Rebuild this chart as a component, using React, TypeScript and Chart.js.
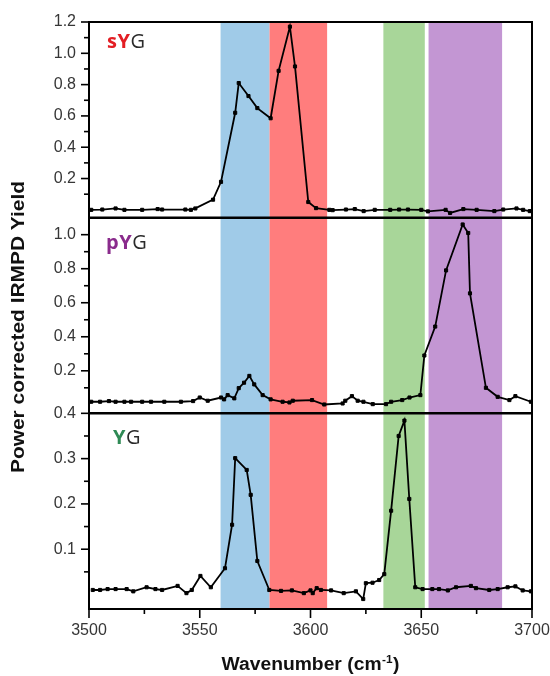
import { useEffect, useRef } from "react";
import { Chart, registerables } from "chart.js";

Chart.register(...registerables);

// ---------------- data ----------------
const xMin = 3500;
const xMax = 3700;
const xTickValues = [3500, 3525, 3550, 3575, 3600, 3625, 3650, 3675, 3700];
const xLabeledTicks = [3500, 3550, 3600, 3650, 3700];

const topTickValues = [0.1, 0.2, 0.3, 0.4, 0.5, 0.6, 0.7, 0.8, 0.9, 1.0, 1.1, 1.2];
const topLabeledTicks = [0.2, 0.4, 0.6, 0.8, 1.0, 1.2];
const middleTickValues = [0.1, 0.2, 0.3, 0.4, 0.5, 0.6, 0.7, 0.8, 0.9, 1.0];
const middleLabeledTicks = [0.2, 0.4, 0.6, 0.8, 1.0];
const bottomTickValues = [0.05, 0.1, 0.15, 0.2, 0.25, 0.3, 0.35, 0.4];
const bottomLabeledTicks = [0.1, 0.2, 0.3, 0.4];

const topRange = [-0.05, 1.2];
const middleRange = [-0.05, 1.1];
const bottomRange = [-0.032, 0.4];

// shaded spectral regions (cm-1)
const bandStart = [3559.4, 3581.5, 3632.9, 3653.3];
const bandEnd = [3581.5, 3607.5, 3651.6, 3686.5];
const bandColor = ["#a0cbe8", "#ff7d7d", "#a8d699", "#c396d3"];

// sYG (top panel)
const sygWavenumber = [
  3501, 3506, 3512, 3516, 3524, 3531, 3533, 3543.5, 3546, 3548, 3556, 3559.6,
  3566, 3567.6, 3572, 3576, 3582, 3585.6, 3590.7, 3593, 3599, 3602.5, 3608.5,
  3610, 3616, 3620, 3624, 3629, 3636, 3640, 3644, 3650, 3653, 3661, 3663, 3669,
  3675, 3683, 3687, 3693, 3696, 3699,
];
const sygYield = [
  0.0, 0.002, 0.009, 0.0, 0.0, 0.005, 0.002, 0.002, 0.0, 0.009, 0.065, 0.179,
  0.62, 0.81, 0.727, 0.65, 0.585, 0.888, 1.17, 0.916, 0.05, 0.011, 0.0,
  -0.002, 0.002, 0.005, -0.008, 0.0, 0.0, 0.002, 0.002, 0.0, -0.01, 0.0, -0.02, 0.005,
  0.0, -0.008, 0.002, 0.009, 0.0, -0.008,
];

// pYG (middle panel)
const pygWavenumber = [
  3501, 3505, 3509, 3512, 3516, 3519, 3524, 3528, 3534, 3541.5, 3547, 3550,
  3553.6, 3559.6, 3561, 3562.6, 3565.6, 3567.6, 3570, 3572.4, 3574.6, 3578.4,
  3582, 3587.4, 3590.5, 3592, 3600.7, 3606.2, 3614.5, 3615.7, 3618.7, 3621.3,
  3623.9, 3628.1, 3634.1, 3636.4, 3641.4, 3644.7, 3649.6, 3651.4, 3656.3,
  3661.2, 3668.7, 3671.2, 3672, 3679.2, 3684.5, 3689.8, 3692.5, 3699.5,
];
const pygYield = [
  0.018, 0.018, 0.022, 0.018, 0.018, 0.018, 0.018, 0.018, 0.018, 0.018, 0.022, 0.043,
  0.024, 0.043, 0.032, 0.057, 0.038, 0.098, 0.13, 0.17, 0.12, 0.057,
  0.032, 0.018, 0.014, 0.024, 0.028, 0.002, 0.008, 0.024, 0.051, 0.024,
  0.018, 0.004, 0.004, 0.018, 0.028, 0.043, 0.057, 0.29, 0.46,
  0.79, 1.06, 1.01, 0.655, 0.1, 0.047, 0.028, 0.051, 0.018,
];

// YG (bottom panel)
const ygWavenumber = [
  3501.7, 3505, 3508.4, 3512, 3517, 3520, 3526, 3530, 3533, 3540, 3544, 3546.4,
  3550.3, 3555, 3561.4, 3564.6, 3566, 3571.2, 3573, 3576, 3581.4, 3586.7,
  3591.6, 3597, 3600, 3601, 3602.8, 3604.7, 3609.3, 3615, 3620.5, 3623.8, 3625,
  3628, 3631, 3633.3, 3636.4, 3639.8, 3642.4, 3644.6, 3647.3, 3650.6, 3655,
  3658, 3662, 3665.7, 3672.4, 3674.7, 3680.7, 3684.5, 3689, 3692.5, 3695.8, 3699.5,
];
const ygYield = [
  0.01, 0.01, 0.012, 0.012, 0.012, 0.007, 0.016, 0.012, 0.01, 0.019, 0.003, 0.01,
  0.041, 0.016, 0.058, 0.154, 0.301, 0.275, 0.22, 0.074, 0.01, 0.008,
  0.009, 0.003, 0.009, 0.003, 0.014, 0.01, 0.009, 0.003, 0.007, -0.01, 0.025,
  0.026, 0.032, 0.045, 0.185, 0.35, 0.384, 0.211, 0.016, 0.012, 0.012,
  0.012, 0.009, 0.016, 0.019, 0.014, 0.01, 0.012, 0.016, 0.018, 0.009, 0.007,
];

const yTitle = "Power corrected IRMPD Yield";
const xTitleMain = "Wavenumber (cm";
const xTitleSup = "-1";
const xTitleEnd = ")";

const panelLabels = [
  { axis: "yTop", parts: [["s", "#e31e24"], ["Y", "#e31e24"], ["G", "#2a2a2a"]] },
  { axis: "yMiddle", parts: [["p", "#8a2b8c"], ["Y", "#8a2b8c"], ["G", "#2a2a2a"]] },
  { axis: "yBottom", parts: [["Y", "#2f8a55"], ["G", "#2a2a2a"]] },
];

// ---------------- layout constants ----------------
const W = 550;
const H = 676;
const AREA_LEFT = 89;
const AREA_TOP = 22;
const AREA_RIGHT_PAD = 18;
const X_AXIS_HEIGHT = 67;
const labelOffsets: Record<string, [number, number]> = {
  yTop: [18, 26],
  yMiddle: [17, 31],
  yBottom: [24, 31],
};

const near = (arr: number[], v: number) => arr.some((a) => Math.abs(a - v) < 1e-9);

const labeledFor: Record<string, number[]> = {
  yTop: topLabeledTicks,
  yMiddle: middleLabeledTicks,
  yBottom: bottomLabeledTicks,
};
const ticksFor: Record<string, number[]> = {
  yTop: topTickValues,
  yMiddle: middleTickValues,
  yBottom: bottomTickValues,
};

const tickFont = { family: '"Liberation Sans", Arial, sans-serif', size: 16 };
const tickColor = "#363636";

function zeroPad(s: any) {
  s.paddingLeft = 0;
  s.paddingRight = 0;
  s.paddingTop = 0;
  s.paddingBottom = 0;
}

function yScale(id: string, range: number[]) {
  return {
    type: "linear",
    position: "left",
    stack: "panels",
    stackWeight: 1,
    min: range[0],
    max: range[1],
    grid: { display: false, drawTicks: false },
    border: { display: false },
    afterBuildTicks: (s: any) => {
      s.ticks = ticksFor[id].map((v) => ({ value: v }));
    },
    afterFit: (s: any) => {
      s.width = AREA_LEFT;
      zeroPad(s);
    },
    ticks: {
      autoSkip: false,
      padding: 13,
      font: tickFont,
      color: tickColor,
      callback: (v: number) => (near(labeledFor[id], v) ? v.toFixed(1) : ""),
    },
  };
}

const decorPlugin = {
  id: "decor",
  beforeDatasetsDraw(chart: any) {
    const { ctx, chartArea: a, scales } = chart;
    const xs = scales.x;
    ctx.save();
    bandStart.forEach((s, i) => {
      const x0 = xs.getPixelForValue(s);
      const x1 = xs.getPixelForValue(bandEnd[i]);
      ctx.fillStyle = bandColor[i];
      ctx.fillRect(x0, a.top, x1 - x0, a.bottom - a.top);
    });
    ctx.restore();
  },
  afterDraw(chart: any) {
    const { ctx, chartArea: a, scales } = chart;
    ctx.save();
    ctx.strokeStyle = "#000";
    // frame
    ctx.lineWidth = 2;
    ctx.strokeRect(a.left, a.top, a.right - a.left, a.bottom - a.top);
    // panel dividers
    ctx.lineWidth = 2.5;
    ["yMiddle", "yBottom"].forEach((id) => {
      const y = scales[id].top;
      ctx.beginPath();
      ctx.moveTo(a.left, y);
      ctx.lineTo(a.right, y);
      ctx.stroke();
    });
    // y ticks
    ctx.lineWidth = 1.6;
    ["yTop", "yMiddle", "yBottom"].forEach((id) => {
      const s = scales[id];
      s.ticks.forEach((t: any) => {
        const py = s.getPixelForValue(t.value);
        const len = near(labeledFor[id], t.value) ? 8 : 5;
        ctx.beginPath();
        ctx.moveTo(a.left - len, py);
        ctx.lineTo(a.left, py);
        ctx.stroke();
      });
    });
    // x ticks
    const xs = scales.x;
    xs.ticks.forEach((t: any) => {
      const px = xs.getPixelForValue(t.value);
      const len = near(xLabeledTicks, t.value) ? 9 : 5;
      ctx.beginPath();
      ctx.moveTo(px, a.bottom);
      ctx.lineTo(px, a.bottom + len);
      ctx.stroke();
    });

    // panel labels
    panelLabels.forEach((p) => {
      const s = scales[p.axis];
      const [dx, dy] = labelOffsets[p.axis];
      let x = a.left + dx;
      const y = s.top + dy;
      ctx.textBaseline = "alphabetic";
      ctx.textAlign = "left";
      p.parts.forEach(([txt, col], i) => {
        const last = i === p.parts.length - 1;
        ctx.font = (last ? "" : "bold ") + '20px "Open Sans", "Liberation Sans", sans-serif';
        ctx.fillStyle = col;
        ctx.fillText(txt, x, y);
        x += ctx.measureText(txt).width + 0.5;
      });
    });

    // y title
    ctx.fillStyle = "#111";
    ctx.font = 'bold 18px "Liberation Sans", Arial, sans-serif';
    ctx.save();
    ctx.translate(19, a.top + 305);
    ctx.rotate(-Math.PI / 2);
    const wy = ctx.measureText(yTitle).width;
    ctx.scale(292 / wy, 1);
    ctx.textAlign = "center";
    ctx.textBaseline = "middle";
    ctx.fillText(yTitle, 0, 0);
    ctx.restore();

    // x title with superscript
    ctx.save();
    const mainFont = 'bold 18px "Liberation Sans", Arial, sans-serif';
    const supFont = 'bold 11px "Liberation Sans", Arial, sans-serif';
    ctx.font = mainFont;
    const w1 = ctx.measureText(xTitleMain).width;
    const w3 = ctx.measureText(xTitleEnd).width;
    ctx.font = supFont;
    const w2 = ctx.measureText(xTitleSup).width;
    const total = w1 + w2 + w3 + 1;
    const k = 178 / total;
    ctx.translate((a.left + a.right) / 2, 670);
    ctx.scale(k, 1);
    ctx.textAlign = "left";
    ctx.textBaseline = "alphabetic";
    let x0 = -total / 2;
    ctx.font = mainFont;
    ctx.fillText(xTitleMain, x0, 0);
    x0 += w1 + 0.5;
    ctx.font = supFont;
    ctx.fillText(xTitleSup, x0, -7);
    x0 += w2 + 0.5;
    ctx.font = mainFont;
    ctx.fillText(xTitleEnd, x0, 0);
    ctx.restore();

    ctx.restore();
  },
};

function series(xs: number[], ys: number[]) {
  return xs.map((x, i) => ({ x, y: ys[i] }));
}

export default function App() {
  const ref = useRef<HTMLCanvasElement | null>(null);

  useEffect(() => {
    document.body.style.margin = "0";
    const canvas = ref.current;
    if (!canvas) return;
    const common = {
      borderColor: "#000",
      backgroundColor: "#000",
      borderWidth: 1.8,
      pointStyle: "rect",
      pointRadius: 2.2,
      pointBorderWidth: 1,
      pointBackgroundColor: "#000",
      pointBorderColor: "#000",
      tension: 0,
      fill: false,
      xAxisID: "x",
    };
    const chart = new Chart(canvas, {
      type: "line",
      data: {
        datasets: [
          { ...common, label: "YG", yAxisID: "yBottom", data: series(ygWavenumber, ygYield) },
          { ...common, label: "pYG", yAxisID: "yMiddle", data: series(pygWavenumber, pygYield) },
          { ...common, label: "sYG", yAxisID: "yTop", data: series(sygWavenumber, sygYield) },
        ],
      } as any,
      options: {
        responsive: false,
        animation: false,
        devicePixelRatio: 1,
        layout: { padding: { top: AREA_TOP, right: AREA_RIGHT_PAD, left: 0, bottom: 0 } },
        plugins: { legend: { display: false }, tooltip: { enabled: false }, title: { display: false } },
        scales: {
          x: {
            type: "linear",
            position: "bottom",
            min: xMin,
            max: xMax,
            grid: { display: false, drawTicks: false },
            border: { display: false },
            afterBuildTicks: (s: any) => {
              s.ticks = xTickValues.map((v) => ({ value: v }));
            },
            afterFit: (s: any) => {
              s.height = X_AXIS_HEIGHT;
              zeroPad(s);
            },
            ticks: {
              autoSkip: false,
              maxRotation: 0,
              padding: 12,
              font: tickFont,
              color: tickColor,
              callback: (v: number) => (near(xLabeledTicks, v) ? String(v) : ""),
            },
          },
          yBottom: yScale("yBottom", bottomRange),
          yMiddle: yScale("yMiddle", middleRange),
          yTop: yScale("yTop", topRange),
        } as any,
      } as any,
      plugins: [decorPlugin],
    });
    return () => chart.destroy();
  }, []);

  return (
    <div style={{ position: "absolute", left: 0, top: 0, width: W, height: H, background: "#fff" }}>
      <canvas ref={ref} width={W} height={H} style={{ display: "block", width: W, height: H }} />
    </div>
  );
}
